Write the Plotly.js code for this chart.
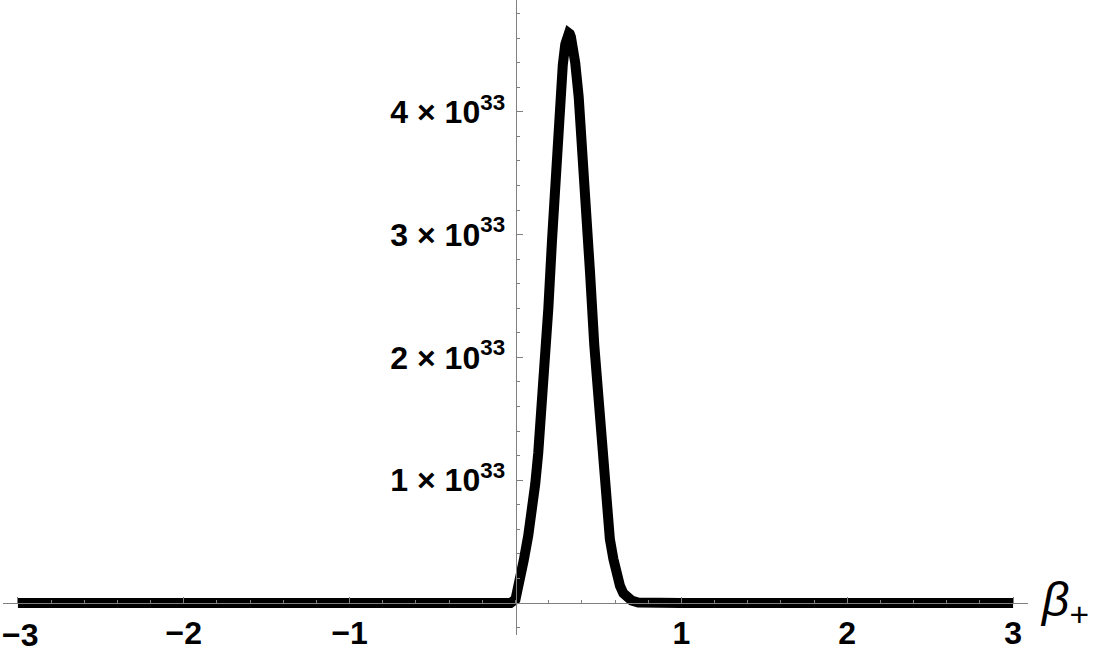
<!DOCTYPE html>
<html>
<head>
<meta charset="utf-8">
<script src="https://cdn.plot.ly/plotly-3.0.1.min.js"></script>
<style>
  html, body { margin: 0; padding: 0; background: #fff; }
  #plot { width: 1096px; height: 652px; }
</style>
</head>
<body>
<div id="plot"></div>
<script>
// curve (x = beta_+, y in units of 1e33)
const betaVals = [-3, -1, -0.03, 0, 0.015, 0.027, 0.05, 0.077, 0.1, 0.119, 0.137, 0.154, 0.178, 0.198, 0.22, 0.242, 0.266, 0.285, 0.3, 0.31, 0.317, 0.322, 0.327, 0.334, 0.345, 0.36, 0.381, 0.408, 0.423, 0.449, 0.475, 0.495, 0.509, 0.537, 0.555, 0.569, 0.59, 0.61, 0.63, 0.65, 0.675, 0.7, 0.74, 0.8, 1, 3];
const yVals = [0, 0, 0, 0.03, 0.11, 0.2, 0.35, 0.55, 0.75, 0.97, 1.22, 1.5, 1.92, 2.4, 2.95, 3.5, 4.05, 4.38, 4.55, 4.61, 4.635, 4.64, 4.635, 4.61, 4.55, 4.4, 4.12, 3.62, 3.28, 2.7, 2.1, 1.7, 1.42, 0.95, 0.7, 0.52, 0.36, 0.23, 0.14, 0.08, 0.04, 0.02, 0.005, 0, 0, 0];

const xTicks = [-3, -2, -1, 1, 2, 3];
// -3 is drawn as an annotation, pushed right so it stays on the page
const xTickText = ['', '−2', '−1', '1', '2', '3'];
const xEdgeLabel = '−3';
const yTicks = [1, 2, 3, 4];
const yTickText = ['1 × 10<sup>33</sup>', '2 × 10<sup>33</sup>', '3 × 10<sup>33</sup>', '4 × 10<sup>33</sup>'];

const SCALE = 1e33;

const trace = {
  x: betaVals,
  y: yVals.map(v => v * SCALE),
  mode: 'lines',
  line: { color: '#000', width: 10, shape: 'linear' },
  hoverinfo: 'skip'
};

const tickFont = { family: 'Liberation Sans, Arial, sans-serif', size: 32, color: '#000', weight: 'bold' };

const layout = {
  width: 1096,
  height: 652,
  margin: { l: 3, r: 68, t: 0, b: 17 },
  paper_bgcolor: '#fff',
  plot_bgcolor: '#fff',
  showlegend: false,
  xaxis: {
    range: [-3.09, 3.09],
    anchor: 'free',
    position: 0.0503,
    showline: true,
    linecolor: '#808080',
    linewidth: 1,
    showgrid: false,
    zeroline: false,
    tickvals: xTicks,
    ticktext: xTickText,
    ticks: 'inside',
    ticklen: 6,
    tickcolor: '#808080',
    tickfont: tickFont,
    ticklabelstandoff: 2,
    minor: { dtick: 0.2, ticks: 'inside', ticklen: 3, tickcolor: '#808080', showgrid: false },
    automargin: false
  },
  yaxis: {
    range: [-0.26 * SCALE, 4.91 * SCALE],
    anchor: 'free',
    position: 0.5,
    showline: true,
    linecolor: '#808080',
    linewidth: 1,
    showgrid: false,
    zeroline: false,
    tickvals: yTicks.map(v => v * SCALE),
    ticktext: yTickText,
    ticks: 'inside',
    ticklen: 6,
    tickcolor: '#808080',
    tickfont: tickFont,
    ticklabelstandoff: 4,
    minor: { dtick: 0.2 * SCALE, tick0: 0, ticks: 'inside', ticklen: 3, tickcolor: '#808080', showgrid: false },
    automargin: false
  },
  annotations: [
    {
      xref: 'paper', yref: 'paper',
      x: -0.002, y: 0.0,
      xanchor: 'left', yanchor: 'middle',
      text: xEdgeLabel,
      showarrow: false,
      borderpad: 0,
      font: tickFont
    },
    {
      xref: 'paper', yref: 'paper',
      x: 1.01, y: 0.05,
      xanchor: 'left', yanchor: 'middle',
      text: '<i>β</i><sub>+</sub>',
      showarrow: false,
      font: { family: 'Liberation Sans, Arial, sans-serif', size: 48, color: '#000' }
    }
  ]
};

Plotly.newPlot('plot', [trace], layout, { displayModeBar: false, staticPlot: true });
</script>
</body>
</html>
